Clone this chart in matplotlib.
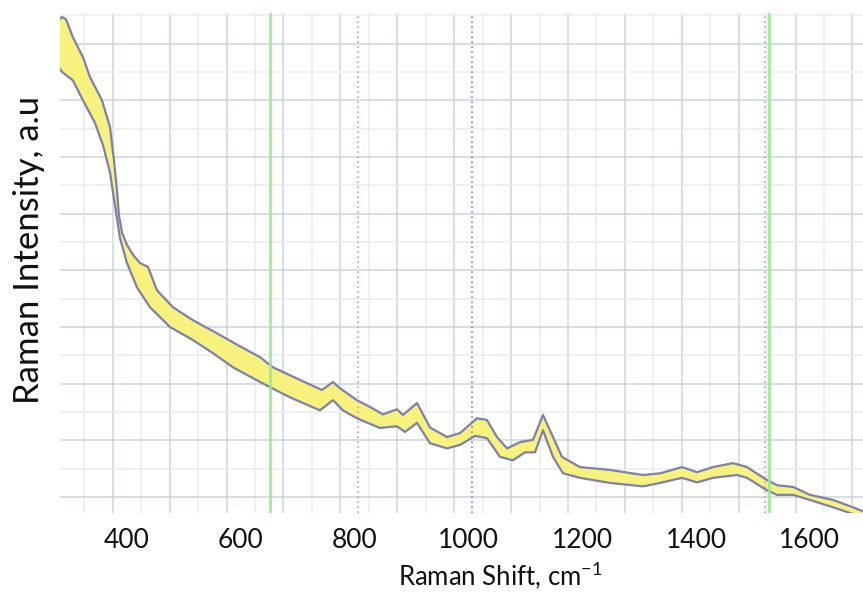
import matplotlib
matplotlib.use("Agg")
import matplotlib.pyplot as plt
import numpy as np

plt.rcParams['font.family'] = ['Lato', 'DejaVu Sans']
plt.rcParams['mathtext.fontset'] = 'custom'
plt.rcParams['mathtext.rm'] = 'Lato'

# upper edge of the spectral band (Raman shift, intensity a.u.)
upper_x = [282.3, 285.8, 292.8, 305.1, 322.7, 335.0, 356.1, 370.1, 377.2, 382.4,
           385.9, 391.2, 400.0, 411.0, 422.8, 436.9, 452.7, 480.8, 516.0, 558.2, 598.6,
           633.7, 656.6, 686.5, 716.4, 742.7, 762.0, 774.3, 804.2, 827.1, 849.9,
           874.5, 885.1, 909.7, 932.5, 962.4, 985.3, 1015.1, 1032.7, 1050.3, 1067.9,
           1090.7, 1113.6, 1131.1, 1148.7, 1164.5, 1196.1, 1248.9, 1306.9, 1336.8, 1375.4,
           1401.8, 1429.9, 1465.1, 1489.7, 1524.8, 1542.4, 1570.5, 1600.4, 1640.8, 1675.9,
           1693.5]
upper_y = [8.44, 8.47, 8.43, 8.11, 7.76, 7.41, 7.00, 6.53, 5.94, 5.41,
           4.97, 4.67, 4.45, 4.27, 4.13, 4.06, 3.65, 3.35, 3.12, 2.89, 2.66,
           2.47, 2.29, 2.15, 2.01, 1.89, 2.03, 1.92, 1.71, 1.59, 1.46,
           1.55, 1.45, 1.66, 1.23, 1.06, 1.13, 1.39, 1.36, 1.06, 0.86,
           0.97, 1.01, 1.45, 1.06, 0.71, 0.53, 0.48, 0.39, 0.42, 0.53,
           0.44, 0.53, 0.60, 0.53, 0.30, 0.21, 0.18, 0.04, -0.05, -0.18,
           -0.25]

# lower edge of the spectral band
lower_x = [282.3, 285.8, 305.1, 322.7, 343.8, 357.8, 370.1, 378.9, 387.7, 400.0,
           417.6, 440.4, 475.6, 516.0, 551.1, 586.3, 628.5, 651.3, 686.5, 739.2,
           762.0, 779.6, 804.2, 844.6, 874.5, 888.6, 909.7, 932.5, 962.4, 985.3,
           1011.6, 1032.7, 1055.5, 1078.4, 1099.5, 1117.1, 1131.1, 1148.7, 1166.3, 1196.1,
           1248.9, 1306.9, 1336.8, 1375.4, 1401.8, 1429.9, 1472.1, 1489.7, 1524.8, 1542.4,
           1570.5, 1600.4, 1640.8, 1670.6, 1693.5]
lower_y = [7.55, 7.50, 7.35, 7.00, 6.60, 6.21, 5.73, 5.15, 4.57, 4.13,
           3.70, 3.35, 3.00, 2.77, 2.54, 2.29, 2.06, 1.94, 1.76, 1.53,
           1.71, 1.53, 1.39, 1.22, 1.25, 1.15, 1.31, 0.95, 0.86, 0.92,
           1.08, 1.04, 0.71, 0.65, 0.79, 0.79, 1.18, 0.71, 0.42, 0.34,
           0.25, 0.19, 0.25, 0.34, 0.26, 0.34, 0.39, 0.34, 0.12, 0.04,
           0.04, -0.05, -0.18, -0.28, -0.35]

green_lines = [651, 1528]
pink_lines = [806, 1521]
blue_lines = [1006]
tick_vals = [400, 600, 800, 1000, 1200, 1400, 1600]

fig = plt.figure(figsize=(8.63, 5.93), dpi=100)
ax = fig.add_axes([60 / 863, 80 / 593, 803 / 863, 500 / 593])
ax.set_xlim(282.3, 1693.5)
ax.set_ylim(-0.28, 8.54)

# grid of the instrument software: dark every 100, light in between
for gx in np.arange(325, 1700, 50):
    dark = (gx - 375) % 100 == 0
    ax.axvline(gx, color='#ccd7d7' if dark else '#e8eeee', lw=1.1, zorder=0)
for gy in np.arange(0, 9, 0.5):
    dark = gy % 1 == 0
    ax.axhline(gy, color='#ccd7d7' if dark else '#e8eeee', lw=1.1, zorder=0)

band_x = np.r_[upper_x, lower_x[::-1]]
band_y = np.r_[upper_y, lower_y[::-1]]
ax.fill(band_x, band_y, color='#f7f27c', lw=0, zorder=2)
ax.plot(upper_x, upper_y, color='#7d80ac', lw=1.6, zorder=3)
ax.plot(lower_x, lower_y, color='#7d80ac', lw=1.6, zorder=3)

for v in green_lines:
    ax.axvline(v, color='#92ec92', lw=2, alpha=0.9, zorder=4)
for v in pink_lines:
    ax.axvline(v, color='#dc8cc0', lw=1.2, ls=(0, (1, 2)), zorder=4)
for v in blue_lines:
    ax.axvline(v, color='#7c7cdc', lw=1.2, ls=(0, (1, 2)), zorder=4)

for s in ax.spines.values():
    s.set_visible(False)
ax.set_yticks([])
ax.set_xticks(tick_vals)
ax.set_xticklabels([str(t) for t in tick_vals])
ax.tick_params(axis='x', length=0, labelsize=19, pad=11, colors='#111111')

fig.text(500 / 863, 1 - 575 / 593, r'Raman Shift, cm$^{\mathregular{-1}}$',
         ha='center', va='center', fontsize=18.5, color='#111111')
fig.text(29 / 863, 1 - 250 / 593, 'Raman Intensity, a.u',
         ha='center', va='center', rotation=90, fontsize=25, color='#111111')

fig.savefig('out.png', dpi=100)
